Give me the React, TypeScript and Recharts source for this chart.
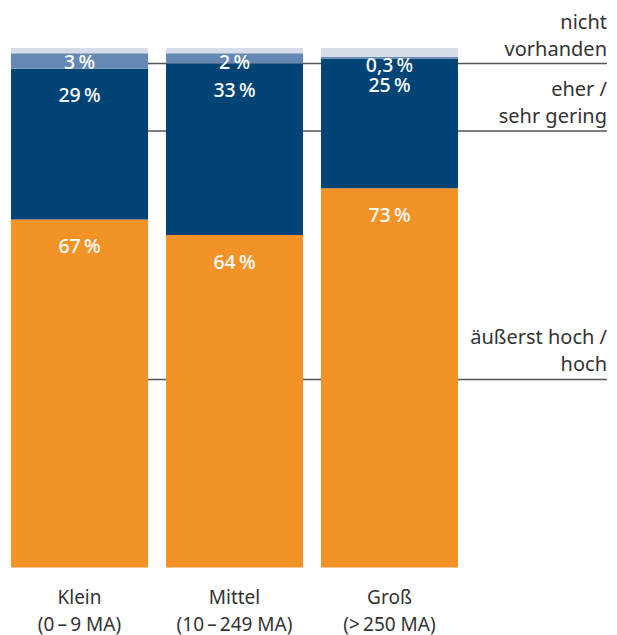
import React from 'react';
import { BarChart, Bar, XAxis, YAxis, ReferenceLine, LabelList } from 'recharts';

const categories = ['Klein', 'Mittel', 'Groß'];
const sizeRanges = ['(0\u2009–\u20099 MA)', '(10\u2009–\u2009249 MA)', '(>\u2009250 MA)'];

// Anteile in Prozent, von unten nach oben gestapelt
const hochValues = [67, 64, 73];
const geringValues = [29, 33, 25];
const nichtValues = [3, 2, 0.3];
const restValues = [1, 1, 1.7];

// Beschriftungen rechts und die Höhe ihrer Linien (in %)
const annotationLevels = [97, 84, 36.2];
const annotationLabels = [
  ['nicht', 'vorhanden'],
  ['eher /', 'sehr gering'],
  ['äußerst hoch /', 'hoch'],
];

const data = categories.map((name, i) => ({
  name,
  range: sizeRanges[i],
  hoch: hochValues[i],
  gering: geringValues[i],
  nicht: nichtValues[i],
  rest: restValues[i],
}));

const FONT = '"Noto Sans", sans-serif';
const TEXT = '#333333';

const formatPct = (v: number) => `${String(v).replace('.', ',')}\u2009%`;

const segmentLabel = (offset: number) => (props: any) => {
  const { x, y, width, value } = props;
  return (
    <text
      x={Number(x) + Number(width) / 2}
      y={Number(y) + offset}
      textAnchor="middle"
      dominantBaseline="central"
      fill="#ffffff"
      fontSize={19.5}
      fontWeight={500}
      fontFamily={FONT}
    >
      {formatPct(Number(value))}
    </text>
  );
};

const CategoryTick = (props: any) => {
  const { x, y, payload, index } = props;
  return (
    <text x={x} y={y} textAnchor="middle" fill={TEXT} fontSize={19} fontFamily={FONT}>
      <tspan x={x} dy={36}>{payload.value}</tspan>
      <tspan x={x} dy={27}>{sizeRanges[index]}</tspan>
    </text>
  );
};

const annotationShape = (lines: string[]) => (props: any) => {
  const { x1, y1 } = props;
  const right = 607;
  // Linie beginnt hinter dem ersten Balken
  return (
    <g>
      <line x1={x1 + 80} y1={y1} x2={right} y2={y1} stroke="#555555" strokeWidth={1.5} />
      <text x={right} y={y1 - 35} textAnchor="end" fill={TEXT} fontSize={20} fontFamily={FONT}>
        {lines[0]}
      </text>
      <text x={right} y={y1 - 8} textAnchor="end" fill={TEXT} fontSize={20} fontFamily={FONT}>
        {lines[1]}
      </text>
    </g>
  );
};

export default function App() {
  return (
    <div style={{ position: 'absolute', left: 0, top: 0 }}>
      <BarChart
        width={617}
        height={635}
        data={data}
        margin={{ top: 48, right: 150, bottom: 7.5, left: 2 }}
        barSize={137}
      >
        <XAxis
          dataKey="name"
          axisLine={false}
          tickLine={false}
          tickSize={0}
          tickMargin={0}
          height={60}
          tick={<CategoryTick />}
          interval={0}
        />
        <YAxis hide domain={[0, 100]} />
        {annotationLevels.map((lvl, i) => (
          <ReferenceLine
            key={i}
            y={lvl}
            zIndex={-10}
            shape={annotationShape(annotationLabels[i])}
          />
        ))}
        <Bar dataKey="hoch" stackId="a" fill="#F39226" isAnimationActive={false}>
          <LabelList dataKey="hoch" content={segmentLabel(26)} />
        </Bar>
        <Bar dataKey="gering" stackId="a" fill="#004375" isAnimationActive={false}>
          <LabelList dataKey="gering" content={segmentLabel(26)} />
        </Bar>
        <Bar dataKey="nicht" stackId="a" fill="#6688B4" isAnimationActive={false}>
          <LabelList dataKey="nicht" content={segmentLabel(8)} />
        </Bar>
        <Bar dataKey="rest" stackId="a" fill="#D6DDE9" isAnimationActive={false} />
      </BarChart>
    </div>
  );
}
